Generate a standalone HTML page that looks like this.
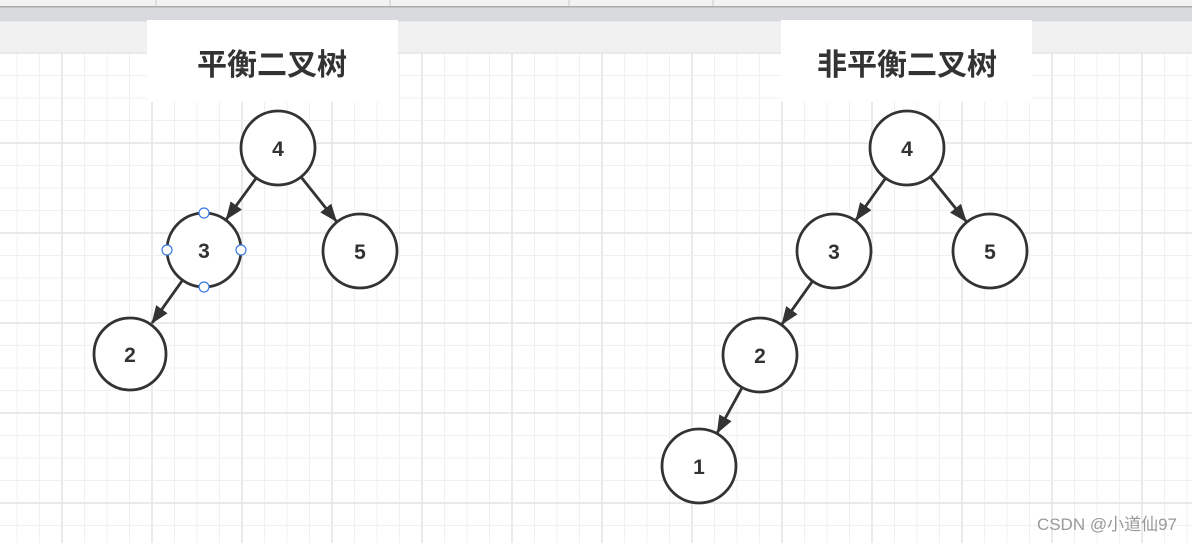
<!DOCTYPE html>
<html><head><meta charset="utf-8"><style>
html,body{margin:0;padding:0;background:#fff}
svg{display:block}
text{font-family:"Liberation Sans","Noto Sans CJK SC",sans-serif}
</style></head><body>
<svg id="s" width="1192" height="543" viewBox="0 0 1192 543" xmlns="http://www.w3.org/2000/svg">
<defs>
<marker id="a" markerWidth="18" markerHeight="16" refX="17" refY="8" orient="auto" markerUnits="userSpaceOnUse" viewBox="0 0 18 16"><path d="M0,1 L18,8 L0,15 Z" fill="#333"/></marker>
</defs>
<rect width="1192" height="543" fill="#fff"/>
<g id="grid"></g>
<rect x="0" y="0" width="1192" height="7" fill="#f2f2f2"/>
<line x1="156" y1="0" x2="156" y2="6" stroke="#ccc"/>
<line x1="390" y1="0" x2="390" y2="6" stroke="#ccc"/>
<line x1="569" y1="0" x2="569" y2="6" stroke="#ccc"/>
<line x1="713" y1="0" x2="713" y2="6" stroke="#ccc"/>
<rect x="0" y="6" width="1192" height="1.5" fill="#aaa"/>
<rect x="0" y="7.5" width="1192" height="14" fill="#d9dadd"/>
<rect x="0" y="21.5" width="1192" height="31" fill="#f1f1f1"/>
<rect x="147" y="20" width="251" height="82" fill="#fff"/>
<rect x="781" y="20" width="251" height="82" fill="#fff"/>
<text x="272" y="75" text-anchor="middle" font-size="30" font-weight="bold" fill="#333">平衡二叉树</text>
<text x="907" y="75" text-anchor="middle" font-size="30" font-weight="bold" fill="#333">非平衡二叉树</text>
<g id="edges"></g>
<g fill="#fff" stroke="#333" stroke-width="2.8">
<circle cx="278" cy="148" r="37"/><circle cx="204" cy="250" r="37"/><circle cx="360" cy="251" r="37"/><circle cx="130" cy="354" r="36"/>
<circle cx="907" cy="148" r="37"/><circle cx="834" cy="251" r="37"/><circle cx="990" cy="251" r="37"/><circle cx="760" cy="355" r="37"/><circle cx="699" cy="466" r="37"/>
</g>
<g font-size="21" font-weight="bold" fill="#333" text-anchor="middle">
<text x="278" y="156">4</text><text x="204" y="258">3</text><text x="360" y="259">5</text><text x="130" y="362">2</text>
<text x="907" y="156">4</text><text x="834" y="259">3</text><text x="990" y="259">5</text><text x="760" y="363">2</text><text x="699" y="474">1</text>
</g>
<g fill="#fff" stroke="#3a7be0" stroke-width="1.2">
<circle cx="204" cy="213" r="5"/><circle cx="204" cy="287" r="5"/><circle cx="167" cy="250" r="5"/><circle cx="241" cy="250" r="5"/>
</g>
<text x="1177" y="530" text-anchor="end" font-size="17" fill="#999">CSDN @小道仙97</text>
</svg>
<script>
var g=document.getElementById('grid'),h='';
for(var i=0;i<60;i++){var x=17+22.5*i;if(x>1192)break;var maj=Math.abs(((x-62)%90+90)%90)<1;h+='<line x1="'+x+'" y1="52" x2="'+x+'" y2="543" stroke="'+(maj?'#e4e4e4':'#f0f0f0')+'" stroke-width="'+(maj?1.5:1)+'"/>';}
for(var j=0;j<30;j++){var y=53+22.5*j;if(y>543)break;var mj=j%4==0;h+='<line x1="0" y1="'+y+'" x2="1192" y2="'+y+'" stroke="'+(mj?'#e4e4e4':'#f0f0f0')+'" stroke-width="'+(mj?1.5:1)+'"/>';}
g.innerHTML=h;
var E=[[278,148,204,250],[278,148,360,251],[204,250,130,354],[907,148,834,251],[907,148,990,251],[834,251,760,355],[760,355,699,466]],s='';
E.forEach(function(e){var dx=e[2]-e[0],dy=e[3]-e[1],L=Math.hypot(dx,dy),ux=dx/L,uy=dy/L;
s+='<line x1="'+(e[0]+37*ux)+'" y1="'+(e[1]+37*uy)+'" x2="'+(e[2]-38*ux)+'" y2="'+(e[3]-38*uy)+'" stroke="#333" stroke-width="2.8" marker-end="url(#a)"/>';});
document.getElementById('edges').innerHTML=s;
</script>
</body></html>
